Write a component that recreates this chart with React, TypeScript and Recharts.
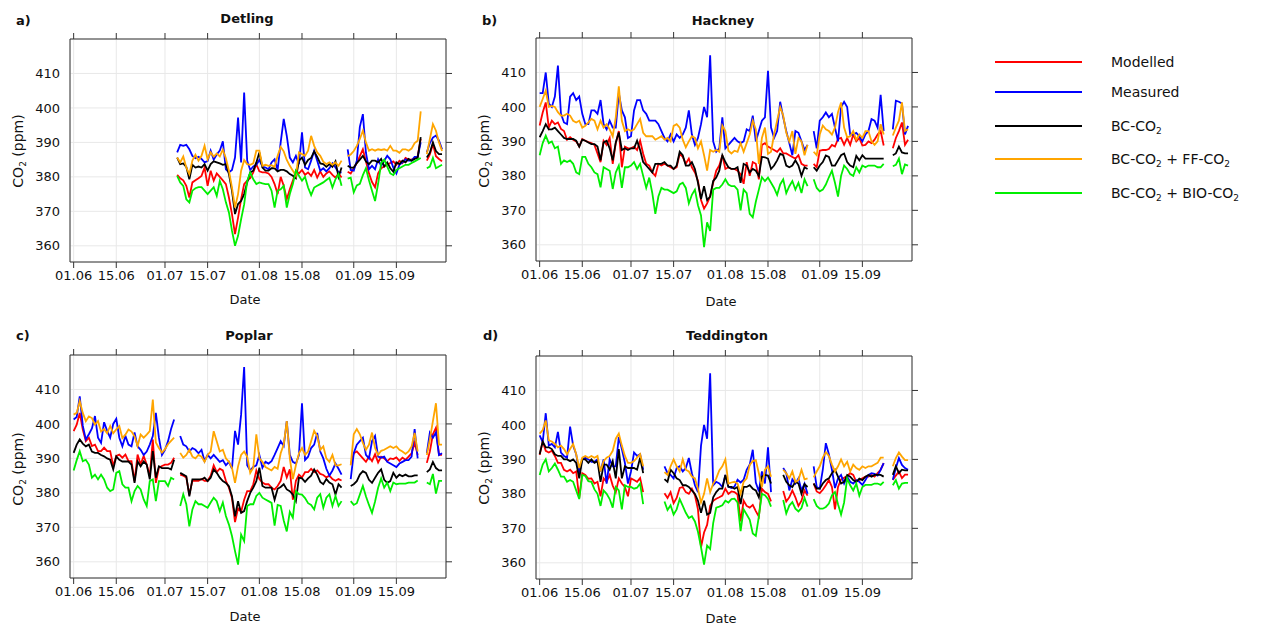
import React from "react";
import { LineChart, Line, XAxis, YAxis, CartesianGrid } from "recharts";

const N = null;

// x = day number counted from 01.06 (day 0) to 30.09 (day 121)
const DATE_TICKS = [0, 14, 30, 44, 61, 75, 92, 106];
const DATE_LABELS = ["01.06", "15.06", "01.07", "15.07", "01.08", "15.08", "01.09", "15.09"];
const CO2_TICKS = [360, 370, 380, 390, 400, 410];

// ---- a) Detling ----
const DETLING_MOD = [
  N, N, N, N, N, N, N, N, N, N,
  N, N, N, N, N, N, N, N, N, N,
  N, N, N, N, N, N, N, N, N, N,
  N, N, N, N, 380.6, 379.6, 379, 377.4, 374, 378.4,
  379, 379.6, 380.3, 382.7, 377.4, 381.8, 378.9, 381, 380, 379,
  377.9, 374, 369.2, 363.4, 368.2, 373.5, 377.9, 378.9, 379.6, 381.3,
  383.7, 381.6, 381.3, 381.3, 381, 380, 377.9, 375, 380, 377.4,
  373.5, 376.4, 378.9, 381.8, 381, 382, 380.6, 381.3, 380.3, 382,
  379.8, 381.6, 380, 381, 381.6, 380.6, 379.8, 381, 379.8, N,
  381.5, 381, 382.5, 384, 386, 388, 384.5, 381, 378.5, 377,
  381, 382.5, 383, 383.5, 384, 384.5, 383.5, 384.7, 384, 385.5,
  385, 385, 385.5, 386, 391, N, 384.7, 386.5, 389.5, 386,
  385.2, 384.5,
];
const DETLING_MEAS = [
  N, N, N, N, N, N, N, N, N, N,
  N, N, N, N, N, N, N, N, N, N,
  N, N, N, N, N, N, N, N, N, N,
  N, N, N, N, 387.1, 389.3, 389, 389.3, 388, 386.1,
  385.4, 385.8, 385.2, 384.2, 384.6, 387.6, 385, 386.5, 387.6, 390.3,
  382.2, 381.3, 382, 385.6, 397.2, 384.2, 404.5, 384.7, 382, 383,
  383.5, 384.9, 383, 382.7, 382.2, 384.2, 385.1, 382, 390, 396.8,
  391.9, 385.6, 384.2, 386.1, 383.7, 392.9, 382.7, 382.2, 384.7, 387.6,
  384.7, 381.8, 382.5, 381.6, 382.5, 383.9, 382.7, 381.3, 381.3, N,
  388, 382, 381.8, 384.7, 394.5, 398.2, 387, 382.2, 383.2, 382.2,
  385.1, 383.2, 384.7, 386.1, 385.1, 382.7, 381, 383.5, 384.2, 385.1,
  384.7, 384.7, 385.8, 385.8, 390, N, 387.1, 389.8, 391.4, 392,
  390.5, 388,
];
const DETLING_BC = [
  N, N, N, N, N, N, N, N, N, N,
  N, N, N, N, N, N, N, N, N, N,
  N, N, N, N, N, N, N, N, N, N,
  N, N, N, N, 385.6, 383.7, 383.9, 382.9, 379.3, 383.5,
  382.7, 383, 382.7, 383.7, 381.8, 383.7, 384.5, 384.2, 383.9, 383.5,
  383.7, 380.8, 376, 369.2, 372.1, 373, 375, 378.4, 381.3, 381.8,
  384.2, 387.1, 382.7, 381.8, 381.8, 382.5, 382.5, 381.6, 382, 382,
  381.6, 380.8, 380.3, 379.6, 384.7, 385.6, 383.5, 384.9, 385.5, 387.4,
  385.8, 383.9, 383.7, 382.9, 383.7, 382.9, 384.5, 380, 382.7, N,
  383.2, 382.7, 382.7, 384, 385, 386.1, 384.5, 383.7, 384.7, 384.7,
  384.2, 385.2, 383, 384.2, 382.5, 381.5, 384.2, 383.7, 384.7, 384.2,
  385.2, 384.7, 385.2, 385.5, 391.5, N, 385.6, 387, 390, 387.5,
  386.6, 386.6,
];
const DETLING_FF = [
  N, N, N, N, N, N, N, N, N, N,
  N, N, N, N, N, N, N, N, N, N,
  N, N, N, N, N, N, N, N, N, N,
  N, N, N, N, 385.6, 384.2, 385.9, 382.7, 380.8, 384.7,
  386.4, 384.7, 386.1, 389, 385.1, 387.1, 385.9, 386.8, 385.9, 387.9,
  385.4, 381.8, 376.9, 371.1, 375, 381.8, 384.9, 383.7, 383.5, 383.9,
  387.6, 387.6, 383.2, 383.5, 383.2, 383.4, 382.9, 386.1, 388.7, 387.4,
  384.9, 383.2, 381.8, 380.3, 387.1, 386.6, 386.1, 387.6, 391.9, 389,
  387.1, 386.1, 384.4, 383.7, 384.2, 383.5, 384.2, 383.2, 384.7, N,
  386, 386.5, 387.5, 389, 391, 393.4, 390, 387.6, 388, 387.6,
  388, 387.8, 388, 387.6, 389, 387.6, 387.6, 387, 388, 388,
  387.6, 388.2, 389.8, 390.5, 399, N, 386.6, 391, 395.3, 393.4,
  390, 387.5,
];
const DETLING_BIO = [
  N, N, N, N, N, N, N, N, N, N,
  N, N, N, N, N, N, N, N, N, N,
  N, N, N, N, N, N, N, N, N, N,
  N, N, N, N, 380.3, 378.4, 377.4, 373.5, 372.6, 376,
  376.7, 377, 377, 376, 375, 376, 377, 374.5, 378.8, 376.4,
  372.6, 369.7, 364.4, 360, 362.9, 367.7, 372, 378.8, 381.3, 379.3,
  377.9, 378.4, 378.1, 377.9, 377.9, 376, 371.1, 376, 376.4, 377.4,
  371.1, 375, 377.9, 381.8, 380.3, 378.9, 380, 376.9, 374.7, 376.9,
  377.4, 377.9, 378.4, 379.1, 379.7, 376.9, 379.3, 380.8, 377.4, N,
  379.5, 379.8, 375.5, 377.5, 378, 380.5, 382.5, 379, 376, 373,
  378, 384, 385, 383, 381, 380.5, 382, 382.5, 383, 383.5,
  383.5, 384, 384.5, 385, 385.5, N, 382.5, 383, 385.5, 382.5,
  383, 383.5,
];

// ---- b) Hackney ----
const HACKNEY_MOD = [
  394.6, 398.4, 401.3, 394, 396, 395, 395.5, 393.6, 393, 390.5,
  391.2, 390.5, 390, 388.5, 390.7, 390.2, 389.8, 389.5, 389, 386.5,
  384, 390.2, 389, 391, 383.5, 389.5, 393, 382.5, 388.5, 388,
  388, 388.5, 387.5, 390.2, 386.4, 383.5, 383, 381, 380, 383.5,
  383, 383.5, 383, 382.5, 382, 382.5, 386.4, 385.5, 383.5, 385,
  382.5, 381, 378.6, 373, 370.5, 372, 374, 378, 381.5, 383,
  386, 382, 382.5, 382, 382, 381.5, 380.5, 377.7, 384, 380,
  384, 383.5, 379, 389, 389.5, 388.5, 388, 387.5, 387, 388,
  386.5, 386.5, 386, 385.5, 385, 386, 383.5, 383, 383, N,
  383.5, 382.5, 387.3, 387.5, 387.5, 387.8, 389, 388.5, 390.7, 391,
  389, 391, 389, 392, 390, 391, 388.8, 389, 390, 389.5,
  390.5, 392, 393, 388.8, N, N, 388, 391, 393, 395.5,
  389, 390.5,
];
const HACKNEY_MEAS = [
  404, 404, 410, 401, 400, 403, 412, 398, 395.5, 395,
  403, 404, 402, 403, 398, 395, 395, 399, 399, 398,
  402, 395, 393.5, 396, 394, 394, 404, 399, 397, 391,
  391.5, 399, 402, 402, 399, 398, 396, 396, 396, 395,
  393, 391, 390, 392, 390, 392, 391, 392, 394, 399,
  392, 389, 391, 395, 400, 397, 415, 390, 387, 388,
  397, 388, 389, 390, 391, 390, 389.5, 390, 393.5, 393,
  397.5, 390, 393, 396, 397, 410.5, 394, 391, 393, 401.5,
  397, 393, 389.5, 386, 393, 392.5, 390, 387.5, 389, N,
  393, 388, 396, 397, 398.4, 397, 398, 394, 390, 400,
  401.5, 400, 392, 392, 392.5, 391.5, 390, 392, 393, 396.5,
  396, 394, 403.5, 393, N, N, 393.5, 401.8, 401.5, 401,
  392, 394.5,
];
const HACKNEY_BC = [
  391.2, 393, 395, 393.5, 393.5, 394, 393, 392, 391, 390.7,
  390.7, 390.7, 390.2, 388.5, 390.5, 390.2, 389.7, 389.2, 389.2, 388.5,
  384.5, 389.7, 390.2, 388, 384.5, 389.7, 392.6, 387.5, 388, 387.5,
  388, 388, 390.2, 387.5, 384, 383, 382, 381, 383.5, 383.5,
  383.5, 384, 383, 383, 382, 383, 387, 386, 383, 383,
  384, 382, 378, 373.3, 377, 373, 374, 378.5, 379.5, 381.5,
  386, 384, 382.5, 382, 382, 382.5, 378, 383.5, 383, 381,
  382, 381.5, 380, 385.5, 385.4, 385, 382, 383, 384.5, 386.4,
  386, 383, 382.5, 383, 384.5, 383, 380, 382.5, 382, N,
  382.5, 381.5, 383, 384, 385.9, 385.5, 383, 383, 384.5, 386,
  386.5, 384, 383, 382.5, 385.8, 384.5, 386, 385, 385, 385,
  385, 385, 385, 385, N, N, 386, 386.5, 388.5, 386.8,
  386.5, 386.5,
];
const HACKNEY_FF = [
  400, 402.3, 404.7, 400, 400.3, 400, 398.5, 397.5, 397.5, 398,
  397.5, 396, 395.5, 396, 394, 394.5, 395.5, 396.5, 396, 393.5,
  396, 394, 395, 393.5, 391.5, 397, 406, 396, 393, 393.5,
  393, 393.5, 395, 396.5, 392.5, 391.5, 391.5, 391.5, 390.5, 391,
  391.5, 390.5, 391, 390, 394.5, 395, 394, 390.5, 388.3, 390,
  391.5, 391, 388, 390, 386, 381.5, 387.5, 387, 387.5, 387,
  394.6, 393, 387.3, 386.5, 387.3, 387, 389.5, 387, 389.5, 392,
  396, 393.5, 383.5, 391, 394, 386.4, 387, 392, 396, 400,
  397.5, 392.5, 390, 393, 386.4, 391, 390, 386, 389, N,
  387, 386, 392, 394.6, 393.5, 393, 392, 394, 398.5, 401.3,
  394, 391.2, 391.5, 393, 390.5, 392, 391, 393, 393, 390,
  389, 390, 395, 392, N, N, 391.7, 394, 396, 401.3,
  393, 393.5,
];
const HACKNEY_BIO = [
  386, 389.5, 391.7, 389.5, 390, 388, 388.5, 383.5, 384.5, 384,
  384.5, 383.5, 381, 380.5, 385.5, 385.5, 383.5, 382.5, 381, 380.5,
  376.7, 382.5, 382, 381.5, 376.2, 381, 383, 376.5, 382.5, 382.5,
  383, 384, 382, 383.5, 380, 376.5, 379.5, 375, 369, 374,
  376.5, 376, 376, 375.5, 375, 375.5, 377.5, 378, 376.5, 372,
  374.5, 376, 371.5, 368.5, 359.3, 366.5, 364, 376, 376.5, 376.5,
  377.5, 379, 377.5, 377, 377, 376, 370, 376, 375, 369,
  368, 372.5, 376, 379.6, 378.5, 379.5, 378, 376.5, 374.5, 377.5,
  379, 375, 377, 378.5, 376, 378, 375, 379, 377, N,
  379, 376.5, 375.5, 376, 377.5, 379.6, 381.5, 378, 374, 380,
  383, 382, 380.5, 380, 382.5, 381, 383, 382.5, 383, 383,
  383, 382.5, 382.5, 383.5, N, N, 382.8, 383.2, 385, 380.5,
  383.3, 383,
];

// ---- c) Poplar ----
const POPLAR_MOD = [
  397.9, 399.8, 403.2, 398.4, 395, 396, 393.6, 394, 392.1, 392.1,
  393.1, 392.1, 392.1, 387.8, 390.7, 391.1, 390.2, 391.1, 389.2, 389.2,
  383.4, 391.1, 388.2, 390.7, 388.2, 384.9, 395.5, 382.9, 387.3, 387.8,
  388.2, 388.2, 388.7, 390.2, N, 385.3, 385, 384.5, 379.5, 383.5,
  383.5, 383.5, 384, 383.5, 383.5, 385, 388, 386, 387, 386.5,
  383.5, 381.5, 378.5, 371.5, 375.5, 374.5, 378, 380.5, 380.5, 382.5,
  386.5, 384, 383, 382.5, 382.5, 381.5, 381, 382, 383.5, 387.5,
  384.5, 386.8, 378, 383.5, 385.3, 384.5, 386, 386, 387, 386,
  386.5, 385.5, 385.2, 384.5, 385, 384, 383.5, 384, 383.6, N,
  N, 388.2, 391.5, 392, 391, 390, 389, 390.5, 389.2, 391.2,
  388.8, 390.5, 390, 389.2, 390, 389.8, 390.3, 389.3, 390.2, 389.6,
  390.5, 391.5, 394.5, 391, N, N, 388.7, 392, 397, 398.9,
  391, 391,
];
const POPLAR_MEAS = [
  401.3, 402, 408, 399.5, 395.5, 397, 398.7, 402.3, 396, 394.5,
  400.5, 398, 396, 400, 401.5, 396, 393.5, 396.5, 394, 393.5,
  397.5, 393.5, 392.5, 391, 392, 394, 396.5, 403.2, 396, 391,
  392.5, 395, 398.5, 401.3, N, 396.5, 394, 393.5, 392, 393,
  392.5, 391.5, 392.5, 389.2, 391, 390, 391, 390, 389, 389.5,
  388, 389, 387, 398, 394, 402.7, 416.5, 388, 386.5, 387.5,
  388, 391, 387.3, 389, 388.5, 389.2, 391, 393, 395, 393.6,
  400.8, 391, 389, 388.5, 391, 406, 389.5, 390.5, 393, 394,
  397.4, 392, 390, 387, 385, 386.5, 388.5, 387, 385.3, N,
  N, 384, 391.5, 394, 395, 396, 391, 390, 395, 396.5,
  390.5, 390.2, 390.5, 389, 388.5, 388, 387.5, 388.5, 389, 389.5,
  389.5, 390.5, 398.5, 390, N, N, 391.5, 397.5, 396, 397.5,
  391, 391.5,
];
const POPLAR_BC = [
  391.6, 394, 395.5, 394.3, 393.5, 394, 392, 391.6, 391.6, 391,
  390.6, 390, 389.6, 386.8, 390.6, 389.6, 389.1, 389.1, 389.1, 388.2,
  382.9, 389.1, 387.7, 389.1, 388.2, 383.9, 392.1, 384.4, 387.7, 387.2,
  387.2, 387.2, 386.8, 389.6, N, 385.8, 385.3, 384.8, 379, 383.9,
  383.9, 383.9, 383.9, 384.4, 383.4, 384.4, 386.8, 385.8, 384.4, 383.4,
  382.9, 381.9, 379, 373.2, 377.6, 374.2, 374.7, 377.6, 380, 381.5,
  383.4, 387.3, 382, 381.5, 381.5, 381.5, 378, 381.2, 381.7, 382.5,
  381, 380.5, 379.5, 377.6, 384.4, 384.2, 383.2, 384.2, 385, 386.8,
  385.3, 383.2, 382.5, 384, 383, 382.5, 379.5, 382.5, 381.5, N,
  N, 382, 382.5, 383.4, 385.3, 386.3, 385.8, 383.8, 382.9, 384.4,
  385.8, 386.8, 383.8, 382.9, 383.4, 385.8, 384.4, 385.3, 384.8, 385.3,
  384.8, 384.8, 385.1, 385.1, N, N, 386, 386.8, 389, 387.2,
  386.5, 386.5,
];
const POPLAR_FF = [
  402.7, 403.2, 406.6, 403.2, 400.8, 402.2, 401.7, 399.8, 400.8, 397.8,
  398.5, 397.3, 399.4, 397.3, 398.4, 399.4, 395.9, 396.9, 398.4, 397.8,
  396.4, 393.6, 396.9, 396, 396.9, 397.9, 407.1, 394.6, 393, 391.7,
  392.7, 394.1, 395.1, 396, N, 391.6, 390.2, 391, 392.5, 390.5,
  390, 391, 390.5, 389, 391, 392, 397.9, 395, 392, 392.5,
  390, 389, 387.3, 382.9, 387.7, 391, 392, 390.5, 385.8, 387.3,
  397, 390, 389, 387.5, 387, 386.5, 387.5, 387, 391.5, 394,
  400.8, 390, 384, 388, 391.5, 393, 391, 392, 395, 398,
  396.5, 392.5, 393.5, 390, 389, 391, 388, 388, 388.3, N,
  N, 388, 397, 398.5, 397, 394.5, 392.5, 394, 397.5, 393,
  391, 392.2, 392.5, 393, 393.5, 393, 393.5, 392.5, 392, 391.3,
  392, 393.5, 397.4, 392, N, N, 391, 395.5, 400.8, 406,
  394, 394,
];
const POPLAR_BIO = [
  386.5, 389.5, 392.1, 389.2, 389.6, 388.2, 384.4, 385.3, 383.9, 385.3,
  383.9, 381.5, 380.5, 381, 385.8, 386.3, 382.5, 381.5, 381.5, 377.6,
  380.5, 382, 381, 378.1, 376.2, 383.4, 383.9, 377.6, 383.4, 383.4,
  383.4, 382, 384.4, 383.9, N, 376.2, 379.6, 376.7, 370.3, 375.2,
  377.6, 376.7, 376.7, 376.2, 375.7, 377.2, 378.6, 377.6, 374.7, 377.2,
  373.3, 370.8, 367.5, 363.1, 359.2, 367.9, 366, 376.2, 376.7, 376.7,
  379.1, 380, 378.6, 378.1, 377.6, 377.1, 370.5, 376.5, 376.2, 372,
  368.8, 374.5, 372.8, 380.5, 379.6, 379.5, 378.5, 377, 376.5, 375.2,
  378.6, 379.6, 375.7, 378.6, 379.6, 376.2, 379.1, 376.2, 377.6, N,
  N, 377.6, 376.5, 377, 379.5, 382, 379, 376.5, 374.2, 377.5,
  381.5, 384.2, 381.5, 383, 380.5, 383, 382.5, 382.7, 382.7, 382.7,
  383, 383, 383, 383.6, N, N, 383, 382.5, 385.5, 379.8,
  383.5, 383.5,
];

// ---- d) Teddington ----
const TEDD_MOD = [
  391.3, 395.2, 392.5, 392, 392.5, 391, 389, 389, 387, 386.5,
  387, 386, 386.5, 378.8, 386, 385.5, 384.4, 384.5, 383, 383.5,
  379.3, 384.5, 383.5, 385.5, 382.4, 380.5, 384.5, 383, 382, 379.3,
  384.5, 384, 383.5, 384.6, 380.5, N, N, N, N, N,
  N, 380.2, 378.8, 380.5, 377.3, 378.8, 381.7, 382, 380.5, 380,
  381.5, 379.6, 375.5, 364.5, 368.8, 371, 376.5, 378, 378.6, 379,
  379.5, 381.5, 380, 380.7, 380.5, 379.8, 372, 378, 376.5, 376,
  376.8, 375, 373.4, 381.5, 380.5, 380, 377.8, N, N, N,
  380.8, 377.8, 379, 381, 379, 376.5, 378, 381, 379.5, N,
  383, 380.7, 380.2, 381.2, 382.5, 384, 382, 375.5, 382, 384.2,
  384.7, 385.2, 386, 385.5, 383.5, 384, 384.5, 385, 385, 385.5,
  385, 386, 387, 388.9, N, N, 384, 385.3, 386.5, 384.6,
  385.6, 385.6,
];
const TEDD_MEAS = [
  397, 395, 403.4, 394, 394.5, 393.5, 398, 392, 391, 390.5,
  399.5, 394, 391.5, 386, 390, 390.5, 390, 389.3, 389.3, 390,
  386.5, 390, 383, 390, 388, 388, 396.5, 393, 389, 383,
  386.5, 392, 391, 391.5, 387, N, N, N, N, N,
  N, 388, 386, 385.5, 384.5, 387.5, 388, 386.5, 387.5, 390.4,
  386, 382.5, 380.5, 394, 400, 396, 415, 382.5, 383.5, 383,
  382, 385.5, 382.1, 381.7, 382.1, 384.1, 383.3, 384.1, 387, 388.5,
  392.8, 383.3, 380.7, 386.5, 383, 393.5, 380.5, N, N, N,
  387.5, 386, 381, 384.2, 383, 384.5, 381, 383, 380, N,
  388, 382, 381.5, 387, 394.7, 391.5, 387, 381.7, 384.5, 385.5,
  383, 385, 383.5, 383, 384, 383.5, 382.6, 384, 385.5, 386,
  385.8, 385.3, 387, 388.9, N, N, 384.1, 387.5, 390.4, 388.4,
  387.5, 387,
];
const TEDD_BC = [
  391.5, 395.2, 393.5, 393.5, 393, 391.5, 391, 391, 390, 390,
  389.5, 390, 389, 384.5, 390, 390, 389, 390, 389, 389.5,
  383.5, 388.5, 388.5, 387, 389.5, 384.5, 393, 384.5, 388, 387.5,
  387.5, 387.5, 387, 390.5, 386, N, N, N, N, N,
  N, 384.3, 383.5, 387, 386, 384.5, 384, 382.5, 382.5, 382,
  381, 380, 378, 374.5, 378, 374, 374.5, 379, 380.5, 381.5,
  381.5, 385.5, 382, 382, 381.5, 382, 377, 382, 382, 382.5,
  381.5, 381, 379, 385, 385.5, 385.3, 383, N, N, N,
  385.5, 383.5, 382.5, 382, 383.5, 383, 380, 382.8, 382, N,
  383, 381.5, 381.5, 383, 384, 384.5, 386, 387, 385, 383,
  383.5, 385.5, 385, 384, 383.5, 384.4, 384, 385, 385.5, 385,
  385.5, 385.5, 385.5, 385, N, N, 385.5, 388, 386, 387,
  386.8, 386.8,
];
const TEDD_FF = [
  397.5, 398.5, 401.3, 395.5, 395.2, 394.5, 393.5, 394, 393, 391.5,
  393, 394.5, 391.5, 387.5, 390.5, 391, 390.5, 391, 390.5, 391,
  386.5, 389.5, 390.5, 391, 392.5, 396, 397.5, 394, 391, 389,
  389, 389.5, 390.5, 391.5, 388, N, N, N, N, N,
  N, 386.3, 385.5, 388, 390, 388, 386.5, 390, 387, 386.5,
  385, 384.5, 381.5, 377.5, 380, 384.5, 380.5, 383, 384.5, 386.8,
  388, 390, 383, 383.3, 383.5, 383, 380, 383.5, 384.5, 388.4,
  389.5, 389.8, 386, 382, 387, 388, 385, N, N, N,
  387, 386, 384.5, 386.5, 383.5, 384, 387, 384.2, 384.5, N,
  384.8, 386.5, 388, 390.5, 392.1, 391, 388.5, 386.5, 388, 390,
  388, 389.3, 386.5, 388.5, 387.5, 387, 388, 387.5, 388, 388,
  388.5, 389, 390.5, 390.5, N, N, 388, 390.4, 392, 390.8,
  389.8, 389.8,
];
const TEDD_BIO = [
  385.5, 388.5, 390, 386.5, 387.5, 388.8, 387, 385, 385, 383.5,
  384, 383.5, 381, 378.5, 385.5, 385.2, 383.7, 383.5, 381.3, 380,
  376.5, 381, 380, 378.5, 376, 382, 381, 375.5, 382.5, 382,
  382, 381.5, 381.8, 383, 377, N, N, N, N, N,
  N, 377.8, 375.3, 376.7, 374, 375.5, 378.5, 376.5, 374.5, 373,
  373.5, 372, 369, 364.5, 359.5, 365, 364, 371.5, 376, 376.3,
  376.7, 378, 377.5, 378.5, 378.6, 377.5, 369.2, 375.5, 374, 372.5,
  368.5, 367.8, 373.5, 380, 379.6, 378.5, 376.3, N, N, N,
  378.2, 374.3, 376.6, 377.6, 375.7, 374.9, 375.9, 378.8, 376.3, N,
  378.5, 376.5, 375.7, 375.7, 376.2, 377.2, 379.6, 380.5, 377, 374,
  377.5, 384.5, 382.5, 381, 383, 379.5, 382, 382.6, 382.6, 382.6,
  383, 383, 382.6, 383.5, N, N, 382.5, 384, 381.5, 383,
  383.2, 383.2,
];

const SERIES = [
  { key: "mod", color: "#ff0000" },
  { key: "meas", color: "#0000ff" },
  { key: "bc", color: "#000000" },
  { key: "ff", color: "#ffa500" },
  { key: "bio", color: "#00ee00" },
];

const PANELS = [
  {
    letter: "a)", title: "Detling", x0: 70, y0: 39,
    letterPos: [16, 20], titlePos: [247, 18], datePos: [245, 299], ylabPos: [18, 151],
    mod: DETLING_MOD, meas: DETLING_MEAS, bc: DETLING_BC, ff: DETLING_FF, bio: DETLING_BIO,
  },
  {
    letter: "b)", title: "Hackney", x0: 536, y0: 38,
    letterPos: [482, 20], titlePos: [723, 20], datePos: [721, 301], ylabPos: [484, 151],
    mod: HACKNEY_MOD, meas: HACKNEY_MEAS, bc: HACKNEY_BC, ff: HACKNEY_FF, bio: HACKNEY_BIO,
  },
  {
    letter: "c)", title: "Poplar", x0: 70, y0: 355,
    letterPos: [16, 335], titlePos: [249, 335], datePos: [245, 616], ylabPos: [18, 469],
    mod: POPLAR_MOD, meas: POPLAR_MEAS, bc: POPLAR_BC, ff: POPLAR_FF, bio: POPLAR_BIO,
  },
  {
    letter: "d)", title: "Teddington", x0: 536, y0: 356,
    letterPos: [483, 335], titlePos: [727, 335], datePos: [721, 618], ylabPos: [484, 468],
    mod: TEDD_MOD, meas: TEDD_MEAS, bc: TEDD_BC, ff: TEDD_FF, bio: TEDD_BIO,
  },
];

function Sub() {
  return <span style={{ fontSize: 9, verticalAlign: -3, lineHeight: 0 }}>2</span>;
}

const LEGEND = [
  { color: "#ff0000", y: 62, label: <>Modelled</> },
  { color: "#0000ff", y: 92, label: <>Measured</> },
  { color: "#000000", y: 126, label: <>BC-CO<Sub /></> },
  { color: "#ffa500", y: 159, label: <>BC-CO<Sub /> + FF-CO<Sub /></> },
  { color: "#00ee00", y: 193, label: <>BC-CO<Sub /> + BIO-CO<Sub /></> },
];

const FONT = "'DejaVu Sans', Verdana, sans-serif";
const TXT = "#111";

const centered = (x: number, y: number): React.CSSProperties => ({
  position: "absolute",
  left: x,
  top: y,
  transform: "translate(-50%, -50%)",
  whiteSpace: "nowrap",
  lineHeight: 1,
});

const dateLabel = (d: number) => DATE_LABELS[DATE_TICKS.indexOf(d)];
const blank = () => "";

function Panel({ p }: { p: any }) {
  const rows = p.mod.map((v: number | null, i: number) => ({
    day: i,
    mod: v,
    meas: p.meas[i],
    bc: p.bc[i],
    ff: p.ff[i],
    bio: p.bio[i],
  }));
  const xDom = [-1.2, 122.3];
  const yDom = [355.3, 420];
  const tickStyle = { fill: TXT, fontSize: 13, fontFamily: FONT };
  return (
    <>
      <div style={{ position: "absolute", left: p.x0 - 70, top: p.y0 - 39 }}>
        <LineChart width={460} height={301} data={rows} margin={{ top: 29, right: 4, bottom: 9, left: 0 }}>
          <CartesianGrid xAxisId="b" yAxisId="l" stroke="#e8e8e8" />
          <XAxis
            xAxisId="b" dataKey="day" type="number" domain={xDom} allowDataOverflow
            ticks={DATE_TICKS} interval={0} tickFormatter={dateLabel}
            height={30} tickSize={6} tickMargin={3} stroke="#333" tick={tickStyle}
          />
          <XAxis
            xAxisId="t" orientation="top" dataKey="day" type="number" domain={xDom} allowDataOverflow
            ticks={DATE_TICKS} interval={0} tickFormatter={blank}
            height={10} tickSize={6} stroke="#333"
          />
          <YAxis
            yAxisId="l" type="number" domain={yDom} allowDataOverflow ticks={CO2_TICKS} interval={0}
            width={70} tickLine={false} tickSize={6} tickMargin={4} stroke="#333" tick={tickStyle}
          />
          <YAxis
            yAxisId="r" orientation="right" type="number" domain={yDom} allowDataOverflow ticks={CO2_TICKS}
            interval={0} width={10} tickSize={6} tickFormatter={blank} stroke="#333"
          />
          {SERIES.map((s) => (
            <Line
              key={s.key}
              xAxisId="b"
              yAxisId="l"
              type="linear"
              dataKey={s.key}
              stroke={s.color}
              strokeWidth={1.8}
              dot={false}
              activeDot={false}
              connectNulls={false}
              isAnimationActive={false}
            />
          ))}
        </LineChart>
      </div>
      <div style={{ ...centered(p.letterPos[0], p.letterPos[1]), transform: "translate(0, -50%)", fontWeight: "bold", fontSize: 13 }}>
        {p.letter}
      </div>
      <div style={{ ...centered(p.titlePos[0], p.titlePos[1]), fontWeight: "bold", fontSize: 13 }}>{p.title}</div>
      <div style={{ ...centered(p.datePos[0], p.datePos[1]), fontSize: 13 }}>Date</div>
      <div style={{ ...centered(p.ylabPos[0], p.ylabPos[1]), transform: "translate(-50%, -50%) rotate(-90deg)", fontSize: 14 }}>
        CO<Sub /> (ppm)
      </div>
    </>
  );
}

export default function App() {
  return (
    <div
      style={{
        position: "absolute",
        left: 0,
        top: 0,
        width: 1265,
        height: 626,
        background: "#fff",
        fontFamily: FONT,
        color: TXT,
        overflow: "hidden",
      }}
    >
      {PANELS.map((p) => (
        <Panel key={p.title} p={p} />
      ))}
      {LEGEND.map((l, i) => (
        <React.Fragment key={i}>
          <div style={{ position: "absolute", left: 995, top: l.y - 1.25, width: 87, height: 2.5, background: l.color }} />
          <div style={{ position: "absolute", left: 1111, top: l.y, transform: "translateY(-50%)", fontSize: 14, whiteSpace: "nowrap", lineHeight: 1 }}>
            {l.label}
          </div>
        </React.Fragment>
      ))}
    </div>
  );
}
